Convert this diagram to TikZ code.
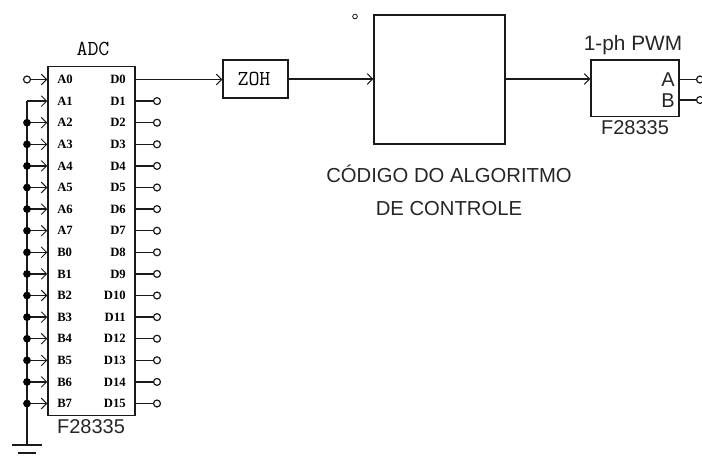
\documentclass[tikz,border=0pt]{standalone}
\usepackage{xcolor}
\usepackage{fontspec}
\usepackage{tikz}
\usetikzlibrary{arrows.meta}
\setmainfont{Liberation Sans}
\newfontfamily\pinfont{Liberation Serif}
\definecolor{WireBlack}{HTML}{1A1A1A}

\begin{document}
\begin{tikzpicture}[
            x=0.75pt, y=-0.75pt,
            box/.style={draw=WireBlack, line width=1.1pt, minimum width=0pt, minimum height=0pt, inner sep=0pt, fill=white},
            wire/.style={draw=WireBlack, line width=1.1pt},
            arrow/.style={wire, -{Straight Barb[length=4pt, width=8pt, line width=0.7pt]}},
            term/.style={circle, draw=WireBlack, line width=0.9pt, fill=white, minimum size=5.2pt, inner sep=0pt},
            dot/.style={circle, fill=black, minimum size=5.8pt, inner sep=0pt},
            pin/.style={font=\pinfont\bfseries\fontsize{9.5}{11}\selectfont, inner sep=0pt},
            mono/.style={font=\ttfamily\fontsize{16}{18}\selectfont, inner sep=0pt},
            caption/.style={font=\fontsize{15}{17}\selectfont, inner sep=0pt, text=black!85}
        ]
            \useasboundingbox (0,0) rectangle (702,458);

            % ADC block
            \node[box, minimum width=65.25pt, minimum height=262pt] (adc) at (91.5,241) {};
            \node[mono] (adctitle) at (93,49) {ADC};
            \node[caption] (adcname) at (91,427) {F28335};

            % pins of the ADC
            \foreach \name [count=\i from 0] in {A0,A1,A2,A3,A4,A5,A6,A7,B0,B1,B2,B3,B4,B5,B6,B7} {
                \coordinate (inrow\i) at (27,79.5+21.6*\i);
                \node[pin, anchor=west] (inlabel\i) at (57,79.5+21.6*\i) {\name};
                \draw[arrow] (inrow\i) -- (inrow\i -| adc.west);
            }
            \foreach \name [count=\i from 0] in {D0,D1,D2,D3,D4,D5,D6,D7,D8,D9,D10,D11,D12,D13,D14,D15} {
                \node[pin, anchor=east] (outlabel\i) at (126,79.5+21.6*\i) {\name};
            }
            \foreach \i in {1,...,15} {
                \node[term] (outterm\i) at (157,79.5+21.6*\i) {};
                \draw[wire] (outterm\i -| adc.east) -- (outterm\i);
            }
            \node[term] (interm) at (inrow0) {};

            % common ground of the inputs
            \coordinate (gnd) at (27,445);
            \draw[wire] (inrow1) -- (gnd);
            \foreach \i in {2,...,15} {
                \node[dot] (joint\i) at (inrow\i) {};
            }
            \draw[wire] (gnd) ++(-15,0) -- ++(30,0);
            \draw[wire] (gnd) ++(-9,8) -- ++(18,0);

            % signal path
            \node[box, minimum width=48.75pt, minimum height=28.5pt] (zoh) at (255.5,79) {};
            \node[mono] (zohtext) at (254,79) {ZOH};
            \node[box, minimum width=98.25pt, minimum height=96.75pt] (code) at (439.5,79.5) {};
            \node[circle, draw=WireBlack, line width=0.6pt, minimum size=3.5pt, inner sep=0pt] (mark) at (355,16.5) {};
            \node[font=\fontsize{15.2}{24.75}\selectfont, align=center, inner sep=0pt, text=black!85] (codetext) at (449,190) {CÓDIGO DO ALGORITMO\\DE CONTROLE};

            \node[box, minimum width=66pt, minimum height=42.5pt] (pwm) at (635,88.3) {};
            \node[caption, font=\fontsize{15.6}{17}\selectfont] (pwmtitle) at (633,45) {1-ph PWM};
            \node[caption] (pwmname) at (635,128) {F28335};
            \node[caption, anchor=east] (pwma) at (675,79.5) {A};
            \node[caption, anchor=east] (pwmb) at (675,100.5) {B};
            \node[term] (outa) at (700,79.5) {};
            \node[term] (outb) at (700,100) {};

            \draw[arrow] (inrow0 -| adc.east) -- (inrow0 -| zoh.west);
            \draw[arrow] (zoh.east) -- (code.west |- zoh);
            \draw[arrow] (code.east |- zoh) -- (pwm.west |- zoh);
            \draw[wire] (pwm.east |- outa) -- (outa);
            \draw[wire] (pwm.east |- outb) -- (outb);

        \end{tikzpicture}
\end{document}
